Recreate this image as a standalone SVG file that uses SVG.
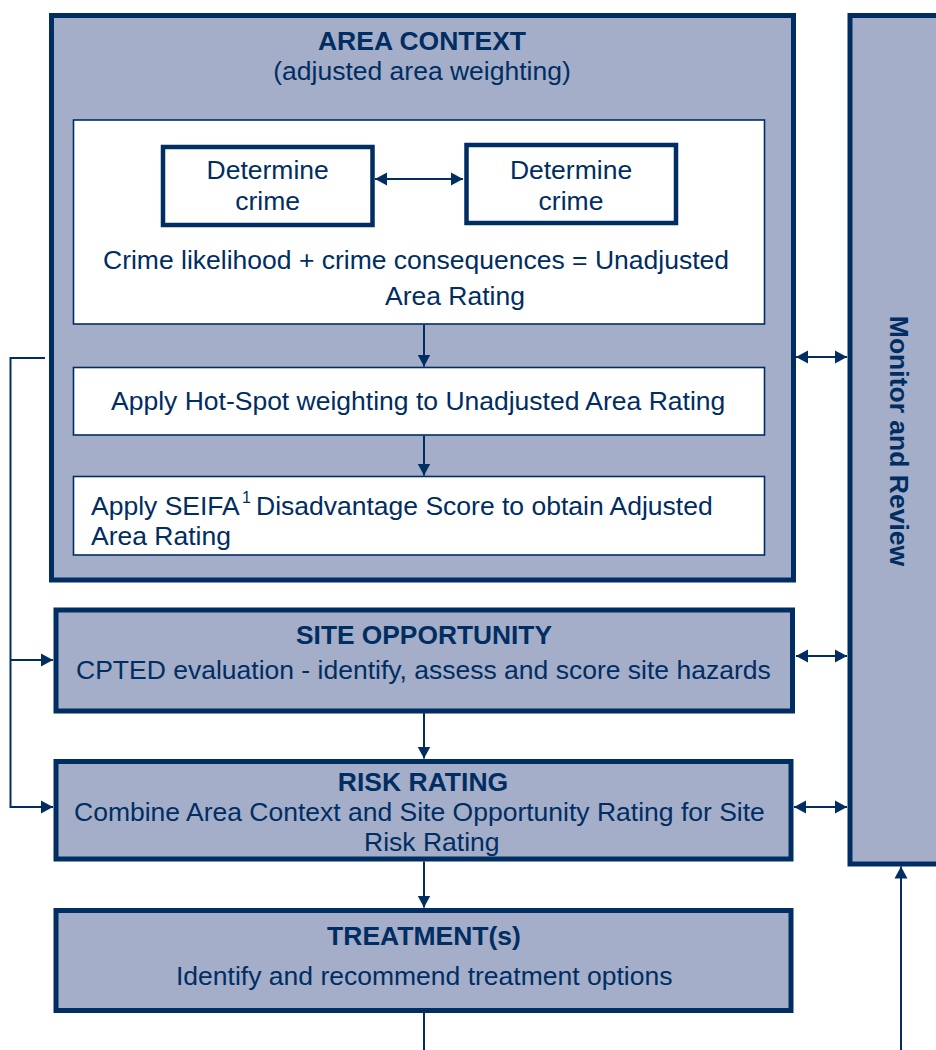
<svg xmlns="http://www.w3.org/2000/svg" width="936" height="1050" viewBox="0 0 936 1050">
<style>
.panel{fill:#a4aec9;stroke:#002d62;stroke-width:5}
.inner{fill:#ffffff;stroke:#002d62;stroke-width:1.6}
.box{fill:#ffffff;stroke:#002d62;stroke-width:4.5}
.t{font-family:"Liberation Sans",Arial,sans-serif;font-size:26.5px;fill:#002d62}
.b{font-weight:bold}
.c{text-anchor:middle}
.ln{fill:none;stroke:#002d62;stroke-width:2}
</style>
<defs>
<marker id="ah" markerUnits="userSpaceOnUse" markerWidth="13" markerHeight="14" refX="12" refY="7" orient="auto-start-reverse" viewBox="0 0 13 14">
<path d="M0,0.5 L12,7 L0,13.5 z" fill="#002d62"/>
</marker>
</defs>
<g id="monitor">
<rect class="panel" x="850" y="15.5" width="110" height="848.5"/>
<text class="t b c" transform="translate(890,441) rotate(90)">Monitor and Review</text>
</g>
<g id="area-context">
<rect class="panel" x="51.5" y="15.5" width="742" height="564.5"/>
<text class="t b c" x="422" y="50">AREA CONTEXT</text>
<text class="t c" x="422" y="80">(adjusted area weighting)</text>
</g>
<g id="unadjusted">
<rect class="inner" x="73.5" y="120" width="691" height="204"/>
<text class="t" x="103" y="269">Crime likelihood + crime consequences = Unadjusted</text>
<text class="t" x="385" y="305">Area Rating</text>
</g>
<g id="determine1">
<rect class="box" x="163" y="147" width="209.5" height="78"/>
<text class="t c" x="267.7" y="179">Determine</text>
<text class="t c" x="267.7" y="210">crime</text>
</g>
<g id="determine2">
<rect class="box" x="466.5" y="145" width="209.5" height="78"/>
<text class="t c" x="571" y="179">Determine</text>
<text class="t c" x="571" y="210">crime</text>
</g>
<g id="hotspot">
<rect class="inner" x="73.5" y="367.5" width="691" height="67.5"/>
<text class="t" x="111" y="410">Apply Hot-Spot weighting to Unadjusted Area Rating</text>
</g>
<g id="seifa">
<rect class="inner" x="73.5" y="476.5" width="691" height="78.5"/>
<text class="t" x="91" y="515">Apply SEIFA<tspan x="242" y="503" font-size="16">1</tspan><tspan x="256" y="515">Disadvantage Score to obtain Adjusted</tspan><tspan x="91" y="545">Area Rating</tspan></text>
</g>
<g id="site-opportunity">
<rect class="panel" x="56" y="610" width="736.5" height="101"/>
<text class="t b c" x="424" y="644" textLength="256" lengthAdjust="spacingAndGlyphs">SITE OPPORTUNITY</text>
<text class="t" x="76" y="679">CPTED evaluation - identify, assess and score site hazards</text>
</g>
<g id="risk-rating">
<rect class="panel" x="56" y="761.5" width="735" height="97.5"/>
<text class="t b c" x="423" y="791">RISK RATING</text>
<text class="t" x="74" y="821">Combine Area Context and Site Opportunity Rating for Site</text>
<text class="t" x="364" y="851">Risk Rating</text>
</g>
<g id="treatment">
<rect class="panel" x="56" y="910.5" width="735" height="100"/>
<text class="t b c" x="424" y="945">TREATMENT(s)</text>
<text class="t" x="176" y="985">Identify and recommend treatment options</text>
</g>
<g id="connectors">
<line class="ln" x1="375" y1="179" x2="463" y2="179" marker-start="url(#ah)" marker-end="url(#ah)"/>
<line class="ln" x1="424" y1="324.5" x2="424" y2="366.5" marker-end="url(#ah)"/>
<line class="ln" x1="424" y1="435.5" x2="424" y2="475.5" marker-end="url(#ah)"/>
<line class="ln" x1="424" y1="713" x2="424" y2="758.5" marker-end="url(#ah)"/>
<line class="ln" x1="424" y1="861.5" x2="424" y2="907.5" marker-end="url(#ah)"/>
<line class="ln" x1="424" y1="1013" x2="424" y2="1050"/>
<polyline class="ln" points="45,358 10.5,358 10.5,807 53,807" marker-end="url(#ah)"/>
<line class="ln" x1="10.5" y1="660" x2="53" y2="660" marker-end="url(#ah)"/>
<line class="ln" x1="796" y1="357" x2="847" y2="357" marker-start="url(#ah)" marker-end="url(#ah)"/>
<line class="ln" x1="796" y1="656" x2="847" y2="656" marker-start="url(#ah)" marker-end="url(#ah)"/>
<line class="ln" x1="794" y1="807" x2="847" y2="807" marker-start="url(#ah)" marker-end="url(#ah)"/>
<line class="ln" x1="901" y1="1050" x2="901" y2="866.5" marker-end="url(#ah)"/>
</g>
</svg>
